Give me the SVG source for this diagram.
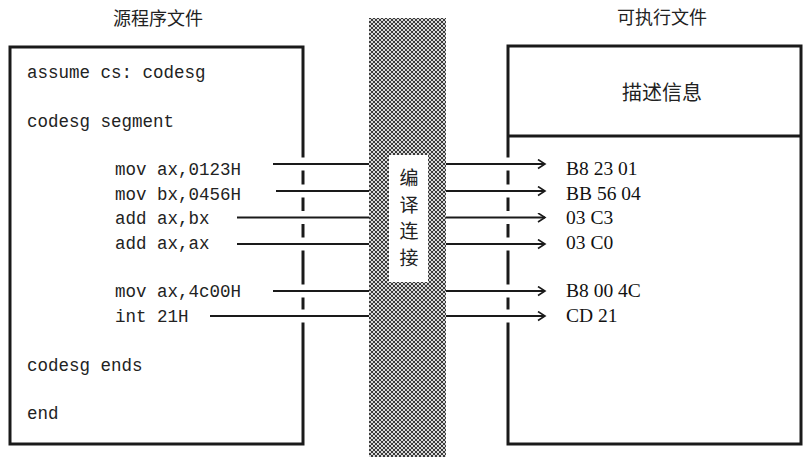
<svg xmlns="http://www.w3.org/2000/svg" width="811" height="462" viewBox="0 0 811 462">
<style>
.box{fill:#fff;stroke:#1a1a1a;stroke-width:3}
.code{font-family:"Liberation Mono","Courier New",monospace;font-size:17.5px;fill:#222}
.hex{font-family:"Liberation Serif","Times New Roman",serif;font-size:19.5px;fill:#111}
.cjk{font-family:"Noto Sans CJK SC","Noto Sans",sans-serif;fill:#222}
.conn{stroke:#1a1a1a;stroke-width:2;fill:none}
.gap{fill:#fff}
</style>
<defs>
<pattern id="hatch" patternUnits="userSpaceOnUse" width="4" height="4">
<rect width="4" height="4" fill="#d8d8d8"/>
<path d="M0,0 L4,4 M4,0 L0,4" stroke="#3a3a3a" stroke-width="1"/>
</pattern>
<marker id="arrow" markerUnits="userSpaceOnUse" markerWidth="12" markerHeight="12" refX="8" refY="5" orient="auto">
<path d="M1,0.5 L8,5 L1,9.5" fill="none" stroke="#1a1a1a" stroke-width="1.6"/>
</marker>
</defs>
<rect width="811" height="462" fill="#fff"/>

<g id="source-title"><text class="cjk" x="158" y="25" font-size="18" text-anchor="middle">源程序文件</text></g>
<g id="exe-title"><text class="cjk" x="662" y="24" font-size="18" text-anchor="middle">可执行文件</text></g>

<g id="source-file">
<rect class="box" x="10" y="47" width="293" height="397"/>
<text class="code" x="27" y="78">assume cs: codesg</text>
<text class="code" x="27" y="127">codesg segment</text>
<text class="code" x="115" y="175">mov ax,0123H</text>
<text class="code" x="115" y="200">mov bx,0456H</text>
<text class="code" x="115" y="224">add ax,bx</text>
<text class="code" x="115" y="249">add ax,ax</text>
<text class="code" x="115" y="297">mov ax,4c00H</text>
<text class="code" x="115" y="322">int 21H</text>
<text class="code" x="27" y="371">codesg ends</text>
<text class="code" x="27" y="419">end</text>
</g>

<g id="linker">
<rect x="369" y="18" width="77" height="439" fill="url(#hatch)"/>
<rect x="389" y="155" width="39" height="127" fill="#fff"/>
<text class="cjk" x="409" y="185" font-size="19" text-anchor="middle">编</text>
<text class="cjk" x="409" y="211.5" font-size="19" text-anchor="middle">译</text>
<text class="cjk" x="409" y="238" font-size="19" text-anchor="middle">连</text>
<text class="cjk" x="409" y="264.5" font-size="19" text-anchor="middle">接</text>
</g>

<g id="exe-file">
<rect class="box" x="508" y="46" width="293" height="398"/>
<line x1="508" y1="136" x2="801" y2="136" stroke="#1a1a1a" stroke-width="3"/>
<text class="cjk" x="662" y="100" font-size="20" text-anchor="middle">描述信息</text>
<text class="hex" x="566" y="175">B8 23 01</text>
<text class="hex" x="566" y="200">BB 56 04</text>
<text class="hex" x="566" y="224">03 C3</text>
<text class="hex" x="566" y="249">03 C0</text>
<text class="hex" x="566" y="297">B8 00 4C</text>
<text class="hex" x="566" y="322">CD 21</text>
</g>

<g id="connectors">
<g class="gap">
<rect x="298" y="157.5" width="10" height="13"/>
<rect x="298" y="184.5" width="10" height="13"/>
<rect x="298" y="211" width="10" height="13"/>
<rect x="298" y="237.5" width="10" height="13"/>
<rect x="298" y="284.5" width="10" height="13"/>
<rect x="298" y="309.5" width="10" height="13"/>
<rect x="503" y="157.5" width="10" height="13"/>
<rect x="503" y="184.5" width="10" height="13"/>
<rect x="503" y="211" width="10" height="13"/>
<rect x="503" y="237.5" width="10" height="13"/>
<rect x="503" y="284.5" width="10" height="13"/>
<rect x="503" y="309.5" width="10" height="13"/>
</g>
<line class="conn" x1="273" y1="164" x2="369" y2="164"/>
<line class="conn" x1="276" y1="191" x2="369" y2="191"/>
<line class="conn" x1="237" y1="217.5" x2="369" y2="217.5"/>
<line class="conn" x1="237" y1="244" x2="369" y2="244"/>
<line class="conn" x1="273" y1="291" x2="369" y2="291"/>
<line class="conn" x1="210" y1="316" x2="369" y2="316"/>
<line class="conn" x1="446" y1="164" x2="545" y2="164" marker-end="url(#arrow)"/>
<line class="conn" x1="446" y1="191" x2="545" y2="191" marker-end="url(#arrow)"/>
<line class="conn" x1="446" y1="217.5" x2="545" y2="217.5" marker-end="url(#arrow)"/>
<line class="conn" x1="446" y1="244" x2="545" y2="244" marker-end="url(#arrow)"/>
<line class="conn" x1="446" y1="291" x2="545" y2="291" marker-end="url(#arrow)"/>
<line class="conn" x1="446" y1="316" x2="545" y2="316" marker-end="url(#arrow)"/>
</g>
</svg>
